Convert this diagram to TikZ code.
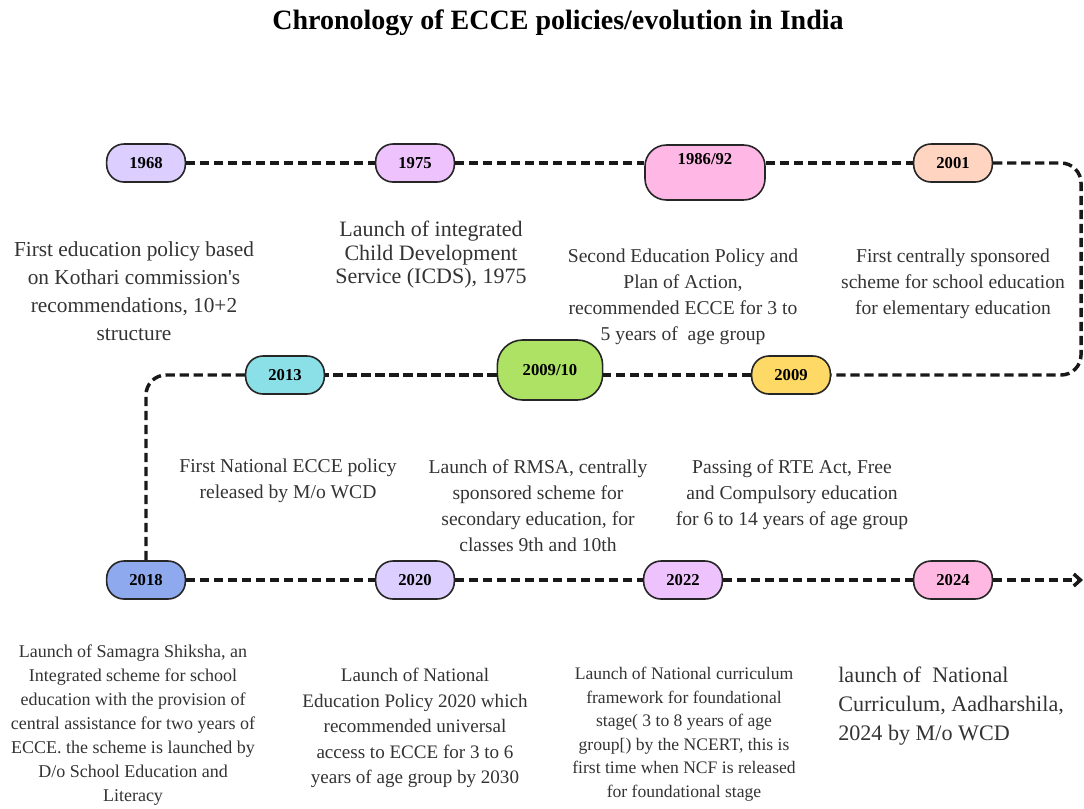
\documentclass[tikz,border=0pt]{standalone}
\usepackage{fontspec}
\setmainfont{Liberation Serif}[Ligatures=TeXOff]
\usepackage{xcolor}
\usetikzlibrary{arrows.meta}

\definecolor{cLav}{HTML}{DCCFFF}
\definecolor{cOrchid}{HTML}{EEC2FC}
\definecolor{cPink}{HTML}{FFB7E5}
\definecolor{cPeach}{HTML}{FFD5C2}
\definecolor{cYellow}{HTML}{FFD966}
\definecolor{cGreen}{HTML}{ADE265}
\definecolor{cCyan}{HTML}{8BE0E8}
\definecolor{cBlue}{HTML}{8FA9EE}
\definecolor{cRose}{HTML}{FFB8E1}
\definecolor{cText}{HTML}{333333}

\begin{document}
\begin{tikzpicture}[x=0.75pt,y=-0.75pt,
  yr/.style={draw=black!85,line width=1.2pt,rounded corners=13pt,inner sep=0pt,
    minimum width=59pt,minimum height=28.5pt,font=\fontsize{12.5}{14}\selectfont\bfseries},
  note/.style={align=center,inner sep=0pt,anchor=north,text=cText},
  tl/.style={line width=2.6pt,dash pattern=on 7pt off 3.5pt,black!90}]
\useasboundingbox (0,0) rectangle (1084,808);

\node[font=\fontsize{21}{25}\selectfont\bfseries] (title) at (558,23) {Chronology of ECCE policies/evolution in India};

% year nodes
\node[yr,fill=cLav] (n1968) at (146,163) {1968};
\node[yr,fill=cOrchid] (n1975) at (415,163) {1975};
\node[yr,fill=cPink,minimum width=90pt,text height=14.6pt,text depth=26.6pt,rounded corners=16pt] (n1986) at (705,172.5) {1986/92};
\node[yr,fill=cPeach] (n2001) at (953,163) {2001};
\node[yr,fill=cCyan] (n2013) at (285,375) {2013};
\node[yr,fill=cGreen,minimum width=79pt,minimum height=45pt,rounded corners=19pt] (n2009b) at (550,370) {2009/10};
\node[yr,fill=cYellow] (n2009) at (791,375) {2009};
\node[yr,fill=cBlue] (n2018) at (146,580) {2018};
\node[yr,fill=cLav] (n2020) at (415,580) {2020};
\node[yr,fill=cOrchid] (n2022) at (683,580) {2022};
\node[yr,fill=cRose] (n2024) at (953,580) {2024};
\coordinate (rt) at (1081,0);
\coordinate (tip) at (1083,580);

% timeline
\draw[tl] (n1968) -- (n1975);
\draw[tl] (n1975) -- (n1975 -| n1986.west);
\draw[tl] (n1986.east |- n2001) -- (n2001);
\draw[tl,rounded corners=15pt] (n2001) -- (n2001 -| rt) -- (n2009 -| rt) -- (n2009);
\draw[tl] (n2009) -- (n2009 -| n2009b.east);
\draw[tl] (n2009b.west |- n2013) -- (n2013);
\draw[tl,rounded corners=15pt] (n2013) -| (n2018);
\draw[tl] (n2018) -- (n2020);
\draw[tl] (n2020) -- (n2022);
\draw[tl] (n2022) -- (n2024);
\draw[tl,-{Straight Barb[length=5pt,width=9pt]}] (n2024) -- (tip);

% descriptions
\node[note,font=\fontsize{16}{21}\selectfont] (t1968) at (134,241) {First education policy based\\on Kothari commission's\\recommendations, 10+2\\structure};
\node[note,font=\fontsize{16.5}{17.6}\selectfont] (t1975) at (431,221) {Launch of integrated\\Child Development\\Service (ICDS), 1975};
\node[note,font=\fontsize{14.7}{19.3}\selectfont] (t1986) at (683,249) {Second Education Policy and\\Plan of Action,\\recommended ECCE for 3 to\\5 years of\ \ age group};
\node[note,font=\fontsize{14.7}{19.3}\selectfont] (t2001) at (953,249) {First centrally sponsored\\scheme for school education\\for elementary education};
\node[note,font=\fontsize{14.7}{19.5}\selectfont] (t2013) at (288,459) {First National ECCE policy\\released by M/o WCD};
\node[note,font=\fontsize{14.7}{19.5}\selectfont] (t2009b) at (538,459) {Launch of RMSA, centrally\\sponsored scheme for\\secondary education, for\\classes 9th and 10th};
\node[note,font=\fontsize{14.7}{19.5}\selectfont] (t2009) at (792,459) {Passing of RTE Act, Free\\and Compulsory education\\for 6 to 14 years of age group};
\node[note,font=\fontsize{13.5}{18}\selectfont] (t2018) at (133,645) {Launch of Samagra Shiksha, an\\Integrated scheme for school\\education with the provision of\\central assistance for two years of\\ECCE. the scheme is launched by\\D/o School Education and\\Literacy};
\node[note,font=\fontsize{14.3}{19.1}\selectfont] (t2020) at (415,668) {Launch of National\\Education Policy 2020 which\\recommended universal\\access to ECCE for 3 to 6\\years of age group by 2030};
\node[note,font=\fontsize{13.2}{17.6}\selectfont] (t2022) at (684,667) {Launch of National curriculum\\framework for foundational\\stage( 3 to 8 years of age\\group[) by the NCERT, this is\\first time when NCF is released\\for foundational stage};
\node[note,anchor=north west,align=left,font=\fontsize{16.6}{21.75}\selectfont] (t2024) at (838,667) {launch of\ \ National\\Curriculum, Aadharshila,\\2024 by M/o WCD};
\end{tikzpicture}
\end{document}
